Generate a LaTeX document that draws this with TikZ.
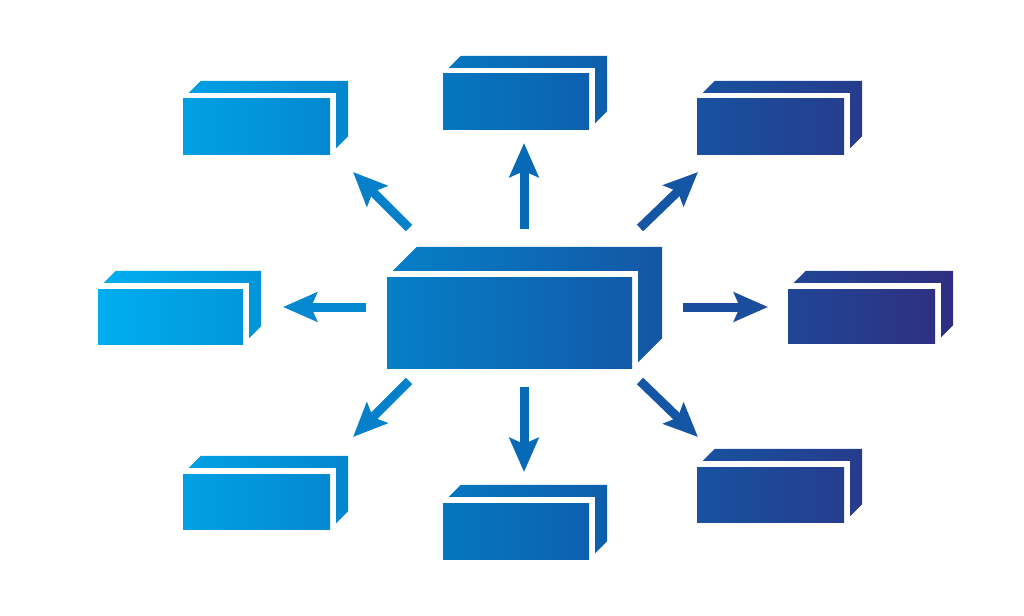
\documentclass[tikz,border=0pt]{standalone}
\usepackage{tikz}
\usetikzlibrary{arrows.meta}

\definecolor{cyanend}{HTML}{00AEEF}
\definecolor{midblue}{HTML}{0769B5}
\definecolor{navyend}{HTML}{302E80}

% colour of the left-to-right gradient at a given x
\newcommand{\setcol}[2]{%
  \pgfmathtruncatemacro{\isleft}{#2<525}%
  \ifnum\isleft=1
    \pgfmathtruncatemacro{\mixp}{max(0,min(100,(#2-97)/4.28))}%
    \colorlet{#1}{midblue!\mixp!cyanend}%
  \else
    \pgfmathtruncatemacro{\mixp}{max(0,min(100,(#2-525)/4.27))}%
    \colorlet{#1}{navyend!\mixp!midblue}%
  \fi}

% block: name, left, top, right, bottom, depth
\newcommand{\cube}[6]{%
  \setcol{lc}{#2}\setcol{rc}{#4}%
  \node[front, left color=lc, right color=rc, minimum width={#4-#2}, minimum height={#5-#3}] (#1) at ({(#2+#4)/2},{(#3+#5)/2}) {};
  \pgfmathsetmacro{\xe}{#4+6+#6}\setcol{ec}{\xe}%
  \shade[left color=lc, right color=ec] ([shift={(6,-6)}]#1.north west) -- ++(#6,-#6)
    -- ([shift={(6+#6,-6-#6)}]#1.north east) -- ([shift={(6+#6,-6-#6)}]#1.south east)
    -- ([shift={(6,-6)}]#1.south east) -- ([shift={(6,-6)}]#1.north east) -- cycle;
}

\tikzset{
  front/.style={rectangle, inner sep=0pt, draw=none},
  outarrow/.style={line width=9pt, -{Stealth[length=34pt, width=29pt, inset=6pt]}}
}

\begin{document}
\begin{tikzpicture}[x=1pt, y=-1pt]
        \useasboundingbox (0,0) rectangle (1024,615);

        % centre block
        \cube{hub}{387}{277}{632}{368}{24}
        % outer blocks
        \cube{blockNW}{183}{99}{330}{154}{12}
        \cube{blockN}{443}{74}{589}{129}{12}
        \cube{blockNE}{697}{99}{844}{154}{12}
        \cube{blockW}{98}{289}{243}{344}{12}
        \cube{blockE}{788}{289}{935}{343}{12}
        \cube{blockSW}{183}{474}{330}{529}{12}
        \cube{blockS}{443}{503}{589}{559}{12}
        \cube{blockSE}{697}{467}{844}{522}{12}

        \coordinate (tailN) at (524,229);  \coordinate (tipN) at (524,143);
        \coordinate (tailS) at (524,387);  \coordinate (tipS) at (524,472);
        \coordinate (tailW) at (366,307);  \coordinate (tipW) at (283,307);
        \coordinate (tailE) at (683,307);  \coordinate (tipE) at (768,307);
        \coordinate (tailNW) at (409,228); \coordinate (tipNW) at (353,172);
        \coordinate (tailNE) at (640,228); \coordinate (tipNE) at (698,172);
        \coordinate (tailSW) at (409,381); \coordinate (tipSW) at (353,437);
        \coordinate (tailSE) at (640,381); \coordinate (tipSE) at (698,437);

        \setcol{ac}{524}
        \draw[outarrow, draw=ac] (tailN) -- (tipN);
        \draw[outarrow, draw=ac] (tailS) -- (tipS);
        \setcol{ac}{325}
        \draw[outarrow, draw=ac] (tailW) -- (tipW);
        \setcol{ac}{725}
        \draw[outarrow, draw=ac] (tailE) -- (tipE);
        \setcol{ac}{381}
        \draw[outarrow, draw=ac] (tailNW) -- (tipNW);
        \draw[outarrow, draw=ac] (tailSW) -- (tipSW);
        \setcol{ac}{669}
        \draw[outarrow, draw=ac] (tailNE) -- (tipNE);
        \draw[outarrow, draw=ac] (tailSE) -- (tipSE);
    \end{tikzpicture}
\end{document}
